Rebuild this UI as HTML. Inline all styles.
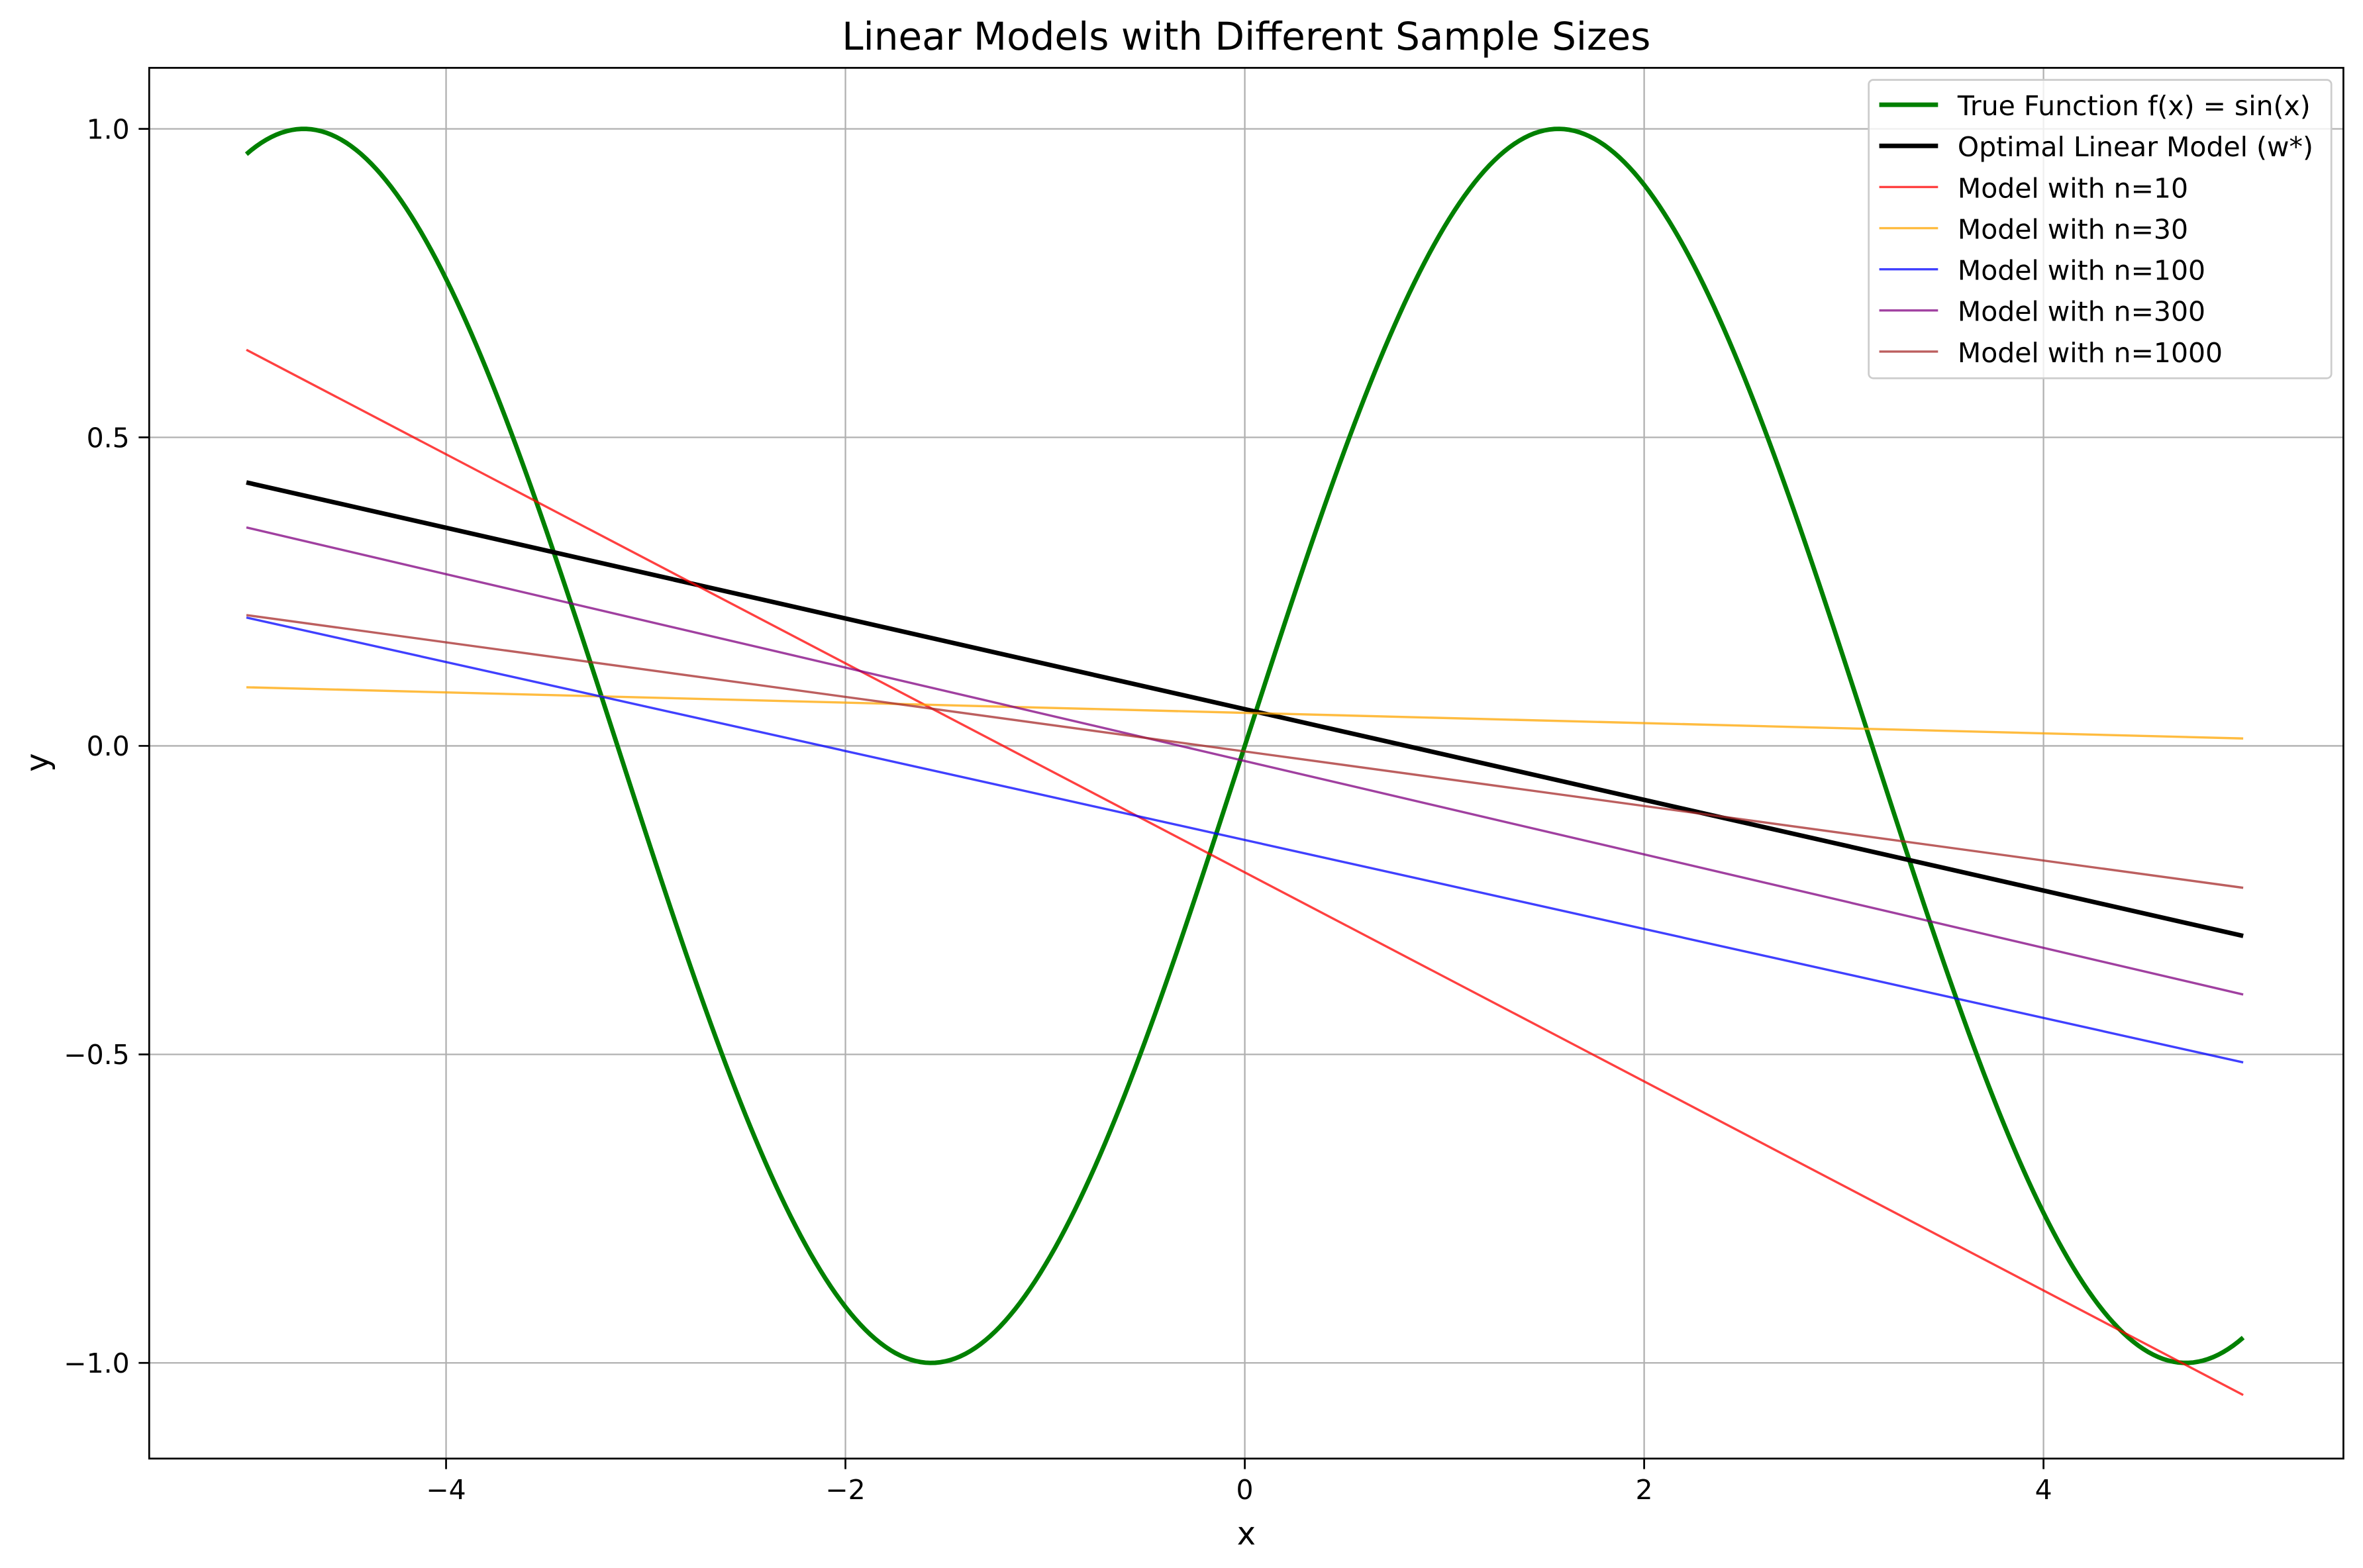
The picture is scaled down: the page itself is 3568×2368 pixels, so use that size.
<!DOCTYPE html>
<html><head><meta charset="utf-8">
<style>
html,body{margin:0;padding:0;background:#fff;}
svg{display:block;font-family:"DejaVu Sans","Liberation Sans",sans-serif;}
</style></head>
<body>
<svg id="chart" width="3568" height="2368" viewBox="0 0 1568 1040.6" xmlns="http://www.w3.org/2000/svg">
<rect width="1568" height="1040.6" fill="#fff"/>
<g id="grid"></g>
<g id="series"></g>
<rect x="99" y="45" width="1456" height="923" fill="none" stroke="#000" stroke-width="1.2"/>
<g id="ticks"></g>
<text x="827" y="33" text-anchor="middle" font-size="25.5">Linear Models with Different Sample Sizes</text>
<text x="827" y="1025" text-anchor="middle" font-size="21">x</text>
<text x="32" y="506" text-anchor="middle" font-size="21" transform="rotate(-90 32 506)">y</text>
<g id="legend"></g>
</svg>
<script>
const xTicks = [-4, -2, 0, 2, 4];
const yTicks = [-1.0, -0.5, 0.0, 0.5, 1.0];
const yTickLabels = ["\u22121.0", "\u22120.5", "0.0", "0.5", "1.0"];
const xTickLabels = ["\u22124", "\u22122", "0", "2", "4"];
const modelNames = ["Optimal Linear Model (w*)", "Model with n=10", "Model with n=30", "Model with n=100", "Model with n=300", "Model with n=1000"];
const modelStart = [0.427, 0.642, 0.095, 0.208, 0.354, 0.212];
const modelEnd = [-0.308, -1.052, 0.012, -0.513, -0.403, -0.230];
const modelColors = ["#000000", "#ff0000", "#ffa500", "#0000ff", "#800080", "#a52a2a"];
const xRange = [-5, 5];

const NS = "http://www.w3.org/2000/svg";
const X = v => 826 + v * 132.5;
const Y = v => 495 - v * 409.5;
function mk(tag, attrs, parent) {
  const e = document.createElementNS(NS, tag);
  for (const k in attrs) e.setAttribute(k, attrs[k]);
  parent.appendChild(e);
  return e;
}
const grid = document.getElementById('grid');
const ticks = document.getElementById('ticks');
const series = document.getElementById('series');
const legend = document.getElementById('legend');

xTicks.forEach((t, i) => {
  const g = mk('line', {x1: X(t), x2: X(t), y1: 45, y2: 968, stroke: '#b0b0b0', 'stroke-width': 1}, grid);
  
  
  const tk = mk('line', {x1: X(t), x2: X(t), y1: 968, y2: 975, stroke: '#000', 'stroke-width': 1.2}, ticks);
  
  
  const tx = mk('text', {x: X(t), y: 995, 'text-anchor': 'middle', 'font-size': 18}, ticks);
  tx.textContent = xTickLabels[i];
  
  
});
yTicks.forEach((t, i) => {
  const g = mk('line', {x1: 99, x2: 1555, y1: Y(t), y2: Y(t), stroke: '#b0b0b0', 'stroke-width': 1}, grid);
  
  
  const tk = mk('line', {x1: 92, x2: 99, y1: Y(t), y2: Y(t), stroke: '#000', 'stroke-width': 1.2}, ticks);
  
  
  const tx = mk('text', {x: 86, y: Y(t) + 6.5, 'text-anchor': 'end', 'font-size': 18}, ticks);
  tx.textContent = yTickLabels[i];
  
  
});

let d = '';
for (let i = 0; i <= 400; i++) {
  const x = xRange[0] + (xRange[1] - xRange[0]) * i / 400;
  d += (i ? 'L' : 'M') + X(x).toFixed(2) + ',' + Y(Math.sin(x)).toFixed(2);
}
const sinLine = mk('path', {d: d, fill: 'none', stroke: '#008000', 'stroke-width': 3}, series);



modelNames.forEach((n, i) => {
  const isOpt = i === 0;
  const l = mk('line', {x1: X(xRange[0]), y1: Y(modelStart[i]), x2: X(xRange[1]), y2: Y(modelEnd[i]),
    stroke: modelColors[i], 'stroke-width': isOpt ? 3 : 1.5, 'stroke-opacity': isOpt ? 1 : 0.75}, series);
  
  
});

const lb = mk('rect', {x: 1240, y: 53, width: 307, height: 198, rx: 3, fill: '#fff', 'fill-opacity': 0.8, stroke: '#ccc', 'stroke-width': 1.2}, legend);


const legNames = ["True Function f(x) = sin(x)"].concat(modelNames);
const legColors = ["#008000"].concat(modelColors);
legNames.forEach((n, i) => {
  const y = 69.5 + i * 27.3;
  const thick = i <= 1;
  const l = mk('line', {x1: 1247, x2: 1286, y1: y, y2: y, stroke: legColors[i], 'stroke-width': thick ? 3 : 1.5, 'stroke-opacity': thick ? 1 : 0.75}, legend);
  
  
  const t = mk('text', {x: 1299, y: y + 7, 'font-size': 18}, legend);
  t.textContent = n;
  
  
});
</script>
</body></html>
